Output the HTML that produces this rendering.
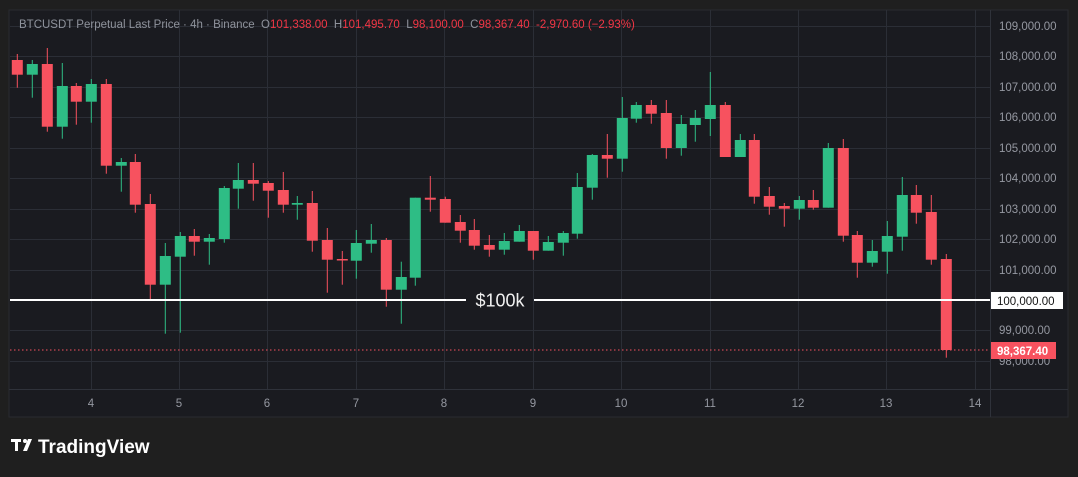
<!DOCTYPE html>
<html><head><meta charset="utf-8"><style>
html,body{margin:0;padding:0;background:#1f1f1f;width:1078px;height:477px;overflow:hidden;font-family:"Liberation Sans",sans-serif;}
</style></head><body>
<svg id="s" width="1078" height="477" xmlns="http://www.w3.org/2000/svg" style="position:absolute;left:0;top:0">
<rect x="0" y="0" width="1078" height="477" fill="#1f1f1f"/>
<rect x="9" y="10" width="1059" height="407" fill="#1a1b20" stroke="#2a2b30" stroke-width="1"/>
<g stroke="#2b2e36" stroke-width="1" id="grid"></g>
<line x1="990.5" y1="10" x2="990.5" y2="417" stroke="#2f323a"/>
<line x1="9" y1="389.5" x2="1068" y2="389.5" stroke="#2f323a"/>
<g id="candles"></g>
<line x1="10" y1="350" x2="990" y2="350" stroke="#f7525f" stroke-width="1" stroke-dasharray="1.5,2.5"/>
<line x1="10" y1="300" x2="466" y2="300" stroke="#ffffff" stroke-width="2"/>
<line x1="534" y1="300" x2="990" y2="300" stroke="#ffffff" stroke-width="2"/>
<text x="500" y="306.5" fill="#f0f0f0" font-size="18" text-anchor="middle" font-family="Liberation Sans, sans-serif">$100k</text>
<g fill="#9598a1" font-size="11.5" font-family="Liberation Sans, sans-serif">
<text x="999" y="30">109,000.00</text>
<text x="999" y="60">108,000.00</text>
<text x="999" y="91">107,000.00</text>
<text x="999" y="121">106,000.00</text>
<text x="999" y="152">105,000.00</text>
<text x="999" y="182">104,000.00</text>
<text x="999" y="213">103,000.00</text>
<text x="999" y="243">102,000.00</text>
<text x="999" y="274">101,000.00</text>
<text x="999" y="334">99,000.00</text>
<text x="999" y="365">98,000.00</text>
</g>
<rect x="991" y="292" width="72" height="17" fill="#ffffff"/>
<text x="997" y="305" fill="#131313" font-size="11.5">100,000.00</text>
<rect x="991" y="342" width="65" height="17" fill="#f7525f"/>
<text x="997" y="355" fill="#ffffff" font-size="11.5" font-weight="bold">98,367.40</text>
<g fill="#9598a1" font-size="11.5" text-anchor="middle">
<text x="91" y="407">4</text><text x="179" y="407">5</text><text x="267" y="407">6</text>
<text x="356" y="407">7</text><text x="444" y="407">8</text><text x="533" y="407">9</text>
<text x="621" y="407">10</text><text x="710" y="407">11</text><text x="798" y="407">12</text>
<text x="886" y="407">13</text><text x="975" y="407">14</text>
</g>
<text x="19" y="28" font-size="11.5" fill="#8f939c" style="white-space:pre" xml:space="preserve">BTCUSDT Perpetual Last Price · 4h · Binance  O<tspan fill="#f23645">101,338.00</tspan>  H<tspan fill="#f23645">101,495.70</tspan>  L<tspan fill="#f23645">98,100.00</tspan>  C<tspan fill="#f23645">98,367.40</tspan>  <tspan fill="#f23645">-2,970.60 (−2.93%)</tspan></text>
<g fill="#ffffff">
<rect x="11" y="439" width="10" height="3"/>
<rect x="15" y="439" width="3" height="12"/>
<circle cx="25" cy="441" r="2"/>
<polygon points="28,439 32,439 27,451 23,451"/>
</g>
<text x="38" y="453" font-size="19" font-weight="bold" fill="#ffffff">TradingView</text>
</svg>
<script>
var NS="http://www.w3.org/2000/svg";
var g=document.getElementById("grid");
[26,56,87,117,148,178,209,239,270,330,361].forEach(function(y){var l=document.createElementNS(NS,"line");l.setAttribute("x1",10);l.setAttribute("x2",990);l.setAttribute("y1",y+.5);l.setAttribute("y2",y+.5);g.appendChild(l);});
[91,179,267,356,444,533,621,710,798,886,975].forEach(function(x){var l=document.createElementNS(NS,"line");l.setAttribute("x1",x+.5);l.setAttribute("x2",x+.5);l.setAttribute("y1",10);l.setAttribute("y2",389);g.appendChild(l);});
var C=[
[17.3,54,60,74.7,87.7,0],[32.3,60,64,74.7,97.7,1],[47.3,48,64,126.7,131.7,0],[62.3,63,86,126.7,138.7,1],
[76.3,83,86,101.7,124.7,0],[91.3,79,84,101.7,122.7,1],[106.3,79,84,165.7,173.7,0],[121.3,158,162,165.7,191.7,1],
[135.3,154,162,204.7,212.7,0],[150.3,194,204,284.7,299.7,0],[165.3,243,256,284.7,333.7,1],[180.3,232,236,256.7,332.7,1],
[194.3,229,236,241.7,255.7,0],[209.3,234,238,241.7,264.7,1],[224.3,186,188,239,242.7,1],[238.3,163,180,188.7,208.7,1],
[253.3,163,180,183.7,200.7,0],[268.3,181,183,190.7,217.7,0],[283.3,172,190,204.7,212.7,0],[297.3,196,203,204.7,219.7,1],
[312.3,191,203,240.7,251.7,0],[327.3,228,240,259.7,292.7,0],[342.3,251,259,260,284.7,0],[356.3,230,243,260.7,278.7,1],
[371.3,224,240,243.7,252.7,1],[386.3,238,240,289.7,306.7,0],[401.3,261.7,277,289.7,323.7,1],[415.3,197.7,197.7,277.7,285.7,1],
[430.3,176,197.7,199.7,211.7,0],[445.3,196.7,199,222.7,222.7,0],[460.3,215,222,230.7,242.7,0],[474.3,219,230,245.7,249.7,0],
[489.3,235,245,249.7,256.7,0],[504.3,233,241,249.7,254.7,1],[519.3,225,231,241.7,241.7,1],[533.3,231,231,250.7,259.7,0],
[548.3,236,242,250.7,250.7,1],[563.3,231,233,242.7,255.7,1],[577.3,173,187,233.7,238.7,1],[592.3,154,155,187.7,199.7,1],
[607.3,134,155,158.7,177.7,0],[622.3,97,118,158.7,171.7,1],[636.3,102,105,118.7,122.7,1],[651.3,100,105,113.7,123.7,0],
[666.3,100,113,148,158.7,0],[681.3,115,124,148,155.7,1],[695.3,110,118,125,141.7,1],[710.3,72,105,119,136,1],
[725.3,102,105,157,157,0],[740.3,134,140,157,157,1],[754.3,134,140,196.7,203.7,0],[769.3,187,196,206.7,214.7,0],
[784.3,203,206,208.7,226.7,0],[799.3,196,200,208.7,219.7,1],[813.3,190,200,207.7,209.7,0],[828.3,143,148,207.7,207.7,1],
[843.3,139,148,235.7,241.7,0],[857.3,231,235,262.7,277.7,0],[872.3,240,251,262.7,266.7,1],[887.3,221,236,251.7,273.7,1],
[902.3,177,195,236.7,250.7,1],[916.3,185,195,212.7,223.7,0],[931.3,195,212,259.7,264.7,0],[946.3,254,259,350,357.7,0]];
var cg=document.getElementById("candles");
C.forEach(function(c){var col=c[5]?"#2ebd85":"#f7525f";
var w=document.createElementNS(NS,"rect");w.setAttribute("x",c[0]-0.5);w.setAttribute("y",c[1]);w.setAttribute("width",1);w.setAttribute("height",c[4]-c[1]);w.setAttribute("fill",col);cg.appendChild(w);
var b=document.createElementNS(NS,"rect");b.setAttribute("x",c[0]-5.5);b.setAttribute("y",c[2]);b.setAttribute("width",11);b.setAttribute("height",Math.max(1.5,c[3]-c[2]));b.setAttribute("fill",col);cg.appendChild(b);});
</script>
</body></html>
